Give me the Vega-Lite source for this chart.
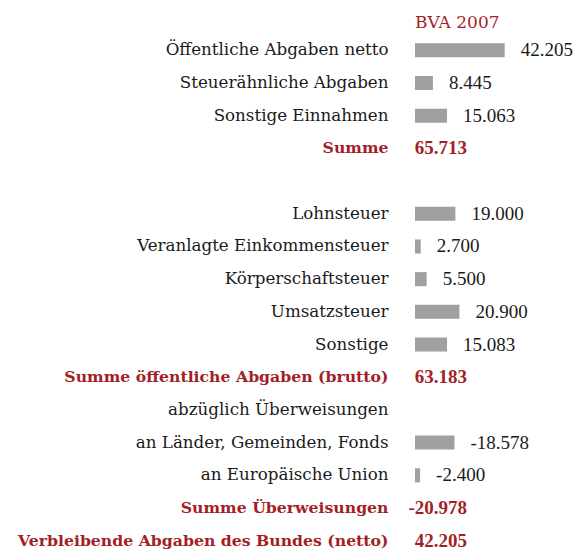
{
  "$schema": "https://vega.github.io/schema/vega-lite/v6.json",
  "autosize": {"type": "none"},
  "padding": {"left": 415, "top": 34, "right": 0, "bottom": 0},
  "width": 170,
  "height": 523,
  "title": {"text": "BVA 2007", "anchor": "start", "frame": "group", "color": "#a31f28", "font": "DejaVu Serif", "fontSize": 17, "fontWeight": "normal", "offset": 2},
  "config": {
    "view": {"stroke": null},
    "locale": {"number": {"decimal": ",", "thousands": ".", "grouping": [3], "currency": ["", " €"], "minus": "-"}}
  },
  "data": {"values": [
    {"cat": "Öffentliche Abgaben netto", "value": 42205, "kind": "item"},
    {"cat": "Steuerähnliche Abgaben", "value": 8445, "kind": "item"},
    {"cat": "Sonstige Einnahmen", "value": 15063, "kind": "item"},
    {"cat": "Summe", "value": 65713, "kind": "sum"},
    {"cat": "Lohnsteuer", "value": 19000, "kind": "item"},
    {"cat": "Veranlagte Einkommensteuer", "value": 2700, "kind": "item"},
    {"cat": "Körperschaftsteuer", "value": 5500, "kind": "item"},
    {"cat": "Umsatzsteuer", "value": 20900, "kind": "item"},
    {"cat": "Sonstige", "value": 15083, "kind": "item"},
    {"cat": "Summe öffentliche Abgaben (brutto)", "value": 63183, "kind": "sum"},
    {"cat": "an Länder, Gemeinden, Fonds", "value": -18578, "kind": "item"},
    {"cat": "an Europäische Union", "value": -2400, "kind": "item"},
    {"cat": "Summe Überweisungen", "value": -20978, "kind": "sum"},
    {"cat": "Verbleibende Abgaben des Bundes (netto)", "value": 42205, "kind": "sum"}
  ]},
  "transform": [{"calculate": "abs(datum.value)", "as": "len"}],
  "encoding": {
    "y": {
      "field": "cat", "type": "nominal",
      "scale": {
        "domain": ["Öffentliche Abgaben netto", "Steuerähnliche Abgaben", "Sonstige Einnahmen", "Summe", " ", "Lohnsteuer", "Veranlagte Einkommensteuer", "Körperschaftsteuer", "Umsatzsteuer", "Sonstige", "Summe öffentliche Abgaben (brutto)", "abzüglich Überweisungen", "an Länder, Gemeinden, Fonds", "an Europäische Union", "Summe Überweisungen", "Verbleibende Abgaben des Bundes (netto)"],
        "paddingInner": 0.57, "paddingOuter": 0.285
      },
      "axis": {
        "title": null, "domain": false, "ticks": false, "labelPadding": 27,
        "labelFont": "DejaVu Serif", "labelLimit": 500,
        "labelFontSize": {"condition": {"test": "indexof(datum.value, 'Summe') === 0 || indexof(datum.value, 'Verbleibende') === 0", "value": 15.7}, "value": 16.7},
        "labelColor": {"condition": {"test": "indexof(datum.value, 'Summe') === 0 || indexof(datum.value, 'Verbleibende') === 0", "value": "#a31f28"}, "value": "#1a1a1a"},
        "labelFontWeight": {"condition": {"test": "indexof(datum.value, 'Summe') === 0 || indexof(datum.value, 'Verbleibende') === 0", "value": "bold"}, "value": "normal"}
      }
    }
  },
  "layer": [
    {
      "transform": [{"filter": "datum.kind === 'item'"}],
      "mark": {"type": "bar", "color": "#a0a0a0"},
      "encoding": {
        "x": {"field": "len", "type": "quantitative", "scale": {"domain": [0, 78000]}, "axis": null}
      }
    },
    {
      "transform": [{"filter": "datum.kind === 'item'"}],
      "mark": {"type": "text", "align": "left", "baseline": "middle", "dx": 16, "font": "Liberation Serif", "fontSize": 19, "color": "#1a1a1a"},
      "encoding": {
        "x": {"field": "len", "type": "quantitative"},
        "text": {"field": "value", "type": "quantitative", "format": ",d"}
      }
    },
    {
      "transform": [{"filter": "datum.kind === 'sum'"}],
      "mark": {"type": "text", "align": "right", "baseline": "middle", "dx": 52, "font": "Liberation Serif", "fontSize": 19, "fontWeight": "bold", "color": "#a31f28"},
      "encoding": {
        "x": {"datum": 0, "type": "quantitative"},
        "text": {"field": "value", "type": "quantitative", "format": ",d"}
      }
    }
  ]
}
